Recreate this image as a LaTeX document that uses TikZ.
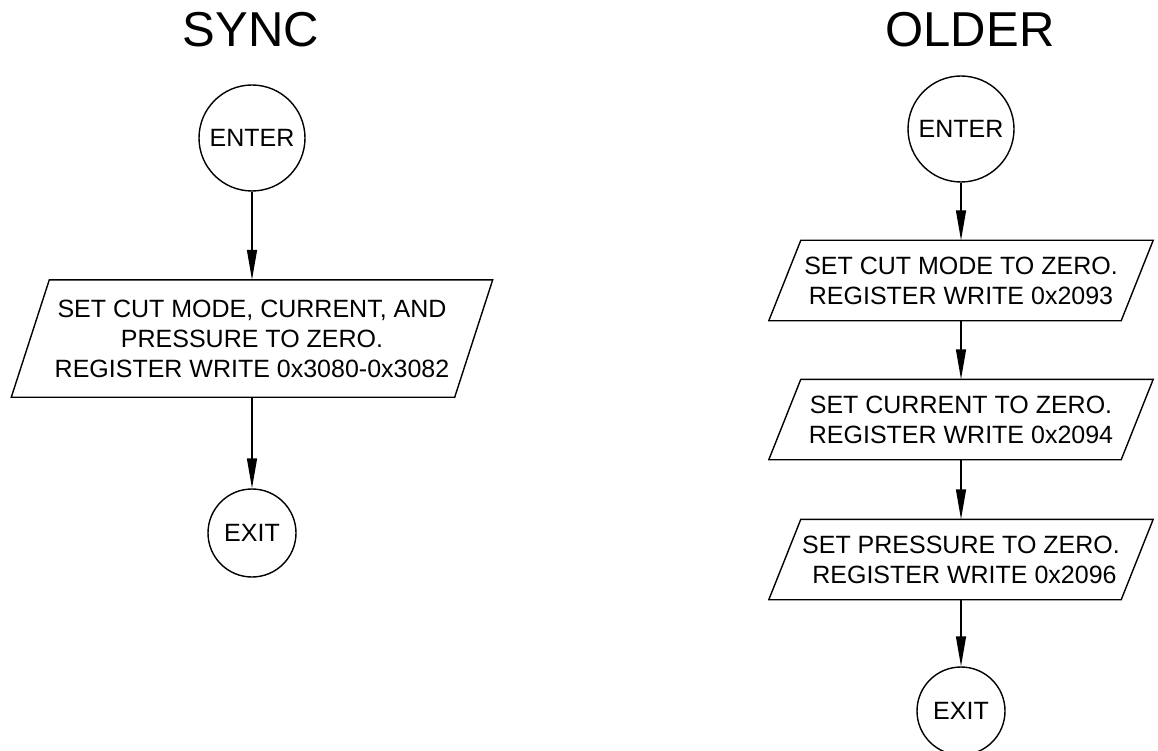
\documentclass[tikz,border=0pt]{standalone}
\usepackage{fontspec}
\setmainfont{Liberation Sans}
\usetikzlibrary{arrows.meta}
\tikzset{
  ttl/.style={font=\fontsize{49}{55}\selectfont, inner sep=0pt},
  term/.style={circle, draw, line width=1.4pt, inner sep=0pt, font=\fontsize{25}{30}\selectfont},
  iobox/.style={rectangle, inner sep=0pt, align=center, font=\fontsize{25}{30}\selectfont},
  flow/.style={line width=1.4pt, -{Triangle[length=30pt,width=10pt]}},
  para/.style={line width=1.4pt, line join=miter}
}
\newcommand{\drawpara}[2]{%
  \draw[para] ([xshift=#2]#1.north west) -- ([xshift=#2]#1.north east) -- ([xshift=-#2]#1.south east) -- ([xshift=-#2]#1.south west) -- cycle;}
\begin{document}
\begin{tikzpicture}[x=1pt,y=-1pt]
\useasboundingbox (0,0) rectangle (1158,751);
% titles
\node[ttl] (tsync) at (251,30) {SYNC};
\node[ttl] (tolder) at (970,30) {OLDER};
% left flow
\node[term, minimum size=106pt] (enterL) at (252,138) {ENTER};
\node[iobox, minimum width=443pt, minimum height=117pt] (paraL) at (252,338.5)
  {SET CUT MODE, CURRENT, AND\\PRESSURE TO ZERO.\\REGISTER WRITE 0x3080-0x3082};
\drawpara{paraL}{19pt}
\node[term, minimum size=88pt] (exitL) at (252,533) {EXIT};
\draw[flow] (enterL) -- (paraL.north);
\draw[flow] (paraL.south) -- (exitL);
% right flow
\node[term, minimum size=106pt] (enterR) at (961,129) {ENTER};
\node[iobox, minimum width=352pt, minimum height=80pt] (p1) at (961,280.5)
  {SET CUT MODE TO ZERO.\\REGISTER WRITE 0x2093};
\drawpara{p1}{16pt}
\node[iobox, minimum width=352pt, minimum height=80pt] (p2) at (961,419.5)
  {SET CURRENT TO ZERO.\\REGISTER WRITE 0x2094};
\drawpara{p2}{16pt}
\node[iobox, minimum width=352pt, minimum height=80pt] (p3) at (961,559.5)
  {SET PRESSURE TO ZERO.\\\ REGISTER WRITE 0x2096};
\drawpara{p3}{16pt}
\node[term, minimum size=88pt] (exitR) at (961,711) {EXIT};
\draw[flow] (enterR) -- (p1.north);
\draw[flow] (p1.south) -- (p2.north);
\draw[flow] (p2.south) -- (p3.north);
\draw[flow] (p3.south) -- (exitR);
\end{tikzpicture}
\end{document}
